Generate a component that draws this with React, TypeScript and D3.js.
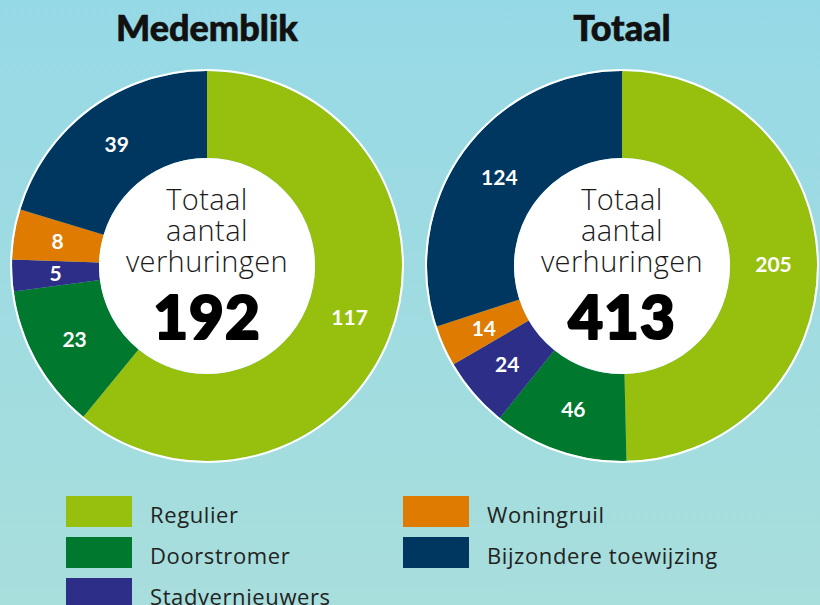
import React from "react";
import * as d3 from "d3";

const categories = ["Regulier", "Doorstromer", "Stadvernieuwers", "Woningruil", "Bijzondere toewijzing"];
const colors = ["#97bf0d", "#00782d", "#2d2e87", "#de7b00", "#003761"];
const chartTitles = ["Medemblik", "Totaal"];
const medemblikValues = [117, 23, 5, 8, 39];
const totaalValues = [205, 46, 24, 14, 124];
const centerLines = ["Totaal", "aantal", "verhuringen"];

const W = 820;
const H = 605;
const R_OUT = 195;
const R_IN = 108;

function Donut({ cx, cy, title, values }: { cx: number; cy: number; title: string; values: number[] }) {
  const pie = d3.pie<number>().sort(null).value((d) => d);
  const arcs = pie(values);
  const arc = d3.arc<d3.PieArcDatum<number>>().innerRadius(R_IN).outerRadius(R_OUT);
  const labelArc = d3.arc<d3.PieArcDatum<number>>().innerRadius(R_IN + 45).outerRadius(R_OUT - 45);
  const total = d3.sum(values);
  return (
    <g>
      <text x={cx} y={41} textAnchor="middle" fontFamily="Lato" fontWeight={900} fontSize={36} fill="#111" stroke="#111" strokeWidth={0.6}>
        {title}
      </text>
      <g transform={`translate(${cx},${cy})`}>
        {arcs.map((a, i) => (
          <path key={i} d={arc(a) || ""} fill={colors[i]} />
        ))}
        <circle r={R_OUT + 1} fill="none" stroke="#ffffff" strokeWidth={2} />
        <circle r={R_IN} fill="#ffffff" />
        {arcs.map((a, i) => {
          const [lx, ly] = labelArc.centroid(a);
          return (
            <text key={"l" + i} x={lx} y={ly} dy="0.36em" textAnchor="middle" fontFamily="Lato" fontWeight={700} fontSize={21} fill="#ffffff">
              {a.data}
            </text>
          );
        })}
        {centerLines.map((t, i) => (
          <text key={"c" + i} x={0} y={-56 + i * 31} textAnchor="middle" fontFamily="'Open Sans'" fontWeight={300} fontSize={29} letterSpacing={0.4} fill="#1a1a1a">
            {t}
          </text>
        ))}
        <text x={0} y={73} textAnchor="middle" fontFamily="Lato" fontWeight={900} fontSize={60} letterSpacing={1} fill="#000" stroke="#000" strokeWidth={2.2} strokeLinejoin="round">
          {total}
        </text>
      </g>
    </g>
  );
}

export default function App() {
  const legendCols = [66, 403];
  const legendRows = [496, 537, 578];
  return (
    <div style={{ position: "absolute", left: 0, top: 0 }}>
      <svg width={W} height={H} viewBox={`0 0 ${W} ${H}`} style={{ display: "block" }}>
        <defs>
          <linearGradient id="bg" x1="0" y1="0" x2="0" y2="1">
            <stop offset="0" stopColor="#96d9e6" />
            <stop offset="1" stopColor="#a8dedc" />
          </linearGradient>
        </defs>
        <rect x={0} y={0} width={W} height={H} fill="url(#bg)" />
        <Donut cx={207} cy={266} title={chartTitles[0]} values={medemblikValues} />
        <Donut cx={622} cy={266} title={chartTitles[1]} values={totaalValues} />
        {categories.map((c, i) => {
          const col = i < 3 ? 0 : 1;
          const row = i < 3 ? i : i - 3;
          const x = legendCols[col];
          const y = legendRows[row];
          return (
            <g key={c}>
              <rect x={x} y={y} width={66} height={31} fill={colors[i]} />
              <text x={x + 84} y={y + 27} fontFamily="'Open Sans'" fontWeight={400} fontSize={22} letterSpacing={0.6} fill="#222">
                {c}
              </text>
            </g>
          );
        })}
      </svg>
    </div>
  );
}
